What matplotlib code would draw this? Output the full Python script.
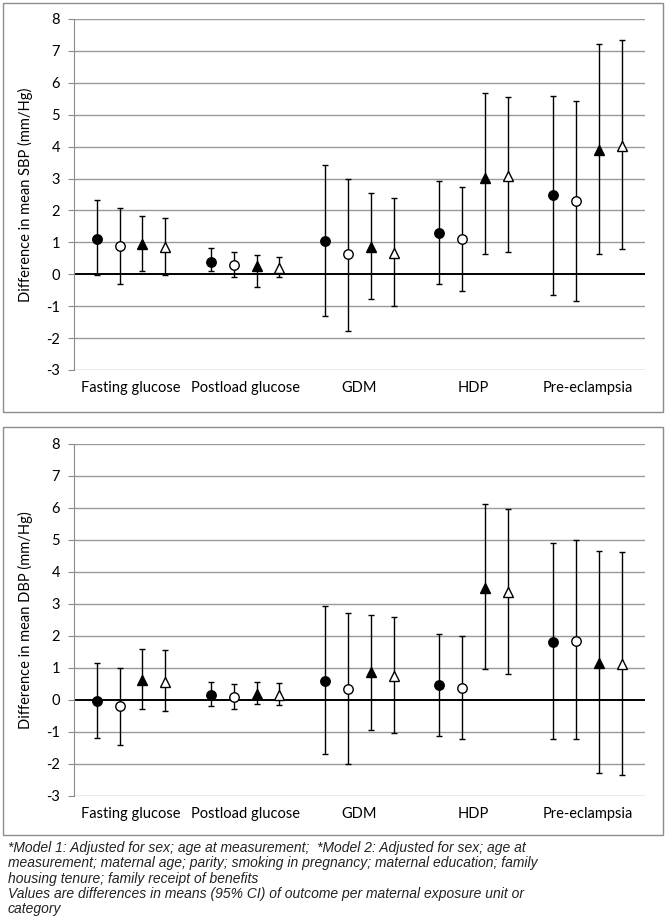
import matplotlib.pyplot as plt
from matplotlib.patches import Rectangle
import numpy as np

categories = ['Fasting glucose', 'Postload glucose', 'GDM', 'HDP', 'Pre-eclampsia']

# SBP: point estimate, lower and upper 95% CI for each series
sbp_circ_m1 = [1.12, 0.40, 1.05, 1.28, 2.49]
sbp_circ_m1_lo = [-0.03, 0.10, -1.31, -0.30, -0.64]
sbp_circ_m1_hi = [2.32, 0.83, 3.42, 2.92, 5.59]
sbp_circ_m2 = [0.89, 0.29, 0.62, 1.10, 2.30]
sbp_circ_m2_lo = [-0.31, -0.10, -1.78, -0.53, -0.83]
sbp_circ_m2_hi = [2.09, 0.71, 3.00, 2.74, 5.44]
sbp_tri_m1 = [0.94, 0.26, 0.87, 3.03, 3.89]
sbp_tri_m1_lo = [0.10, -0.39, -0.78, 0.63, 0.63]
sbp_tri_m1_hi = [1.83, 0.60, 2.56, 5.69, 7.22]
sbp_tri_m2 = [0.84, 0.21, 0.66, 3.09, 4.03]
sbp_tri_m2_lo = [-0.03, -0.10, -1.01, 0.71, 0.79]
sbp_tri_m2_hi = [1.76, 0.55, 2.38, 5.54, 7.35]

# DBP
dbp_circ_m1 = [-0.02, 0.17, 0.60, 0.47, 1.80]
dbp_circ_m1_lo = [-1.18, -0.19, -1.70, -1.13, -1.21]
dbp_circ_m1_hi = [1.17, 0.57, 2.93, 2.07, 4.92]
dbp_circ_m2 = [-0.20, 0.10, 0.34, 0.37, 1.85]
dbp_circ_m2_lo = [-1.41, -0.27, -2.00, -1.21, -1.21]
dbp_circ_m2_hi = [0.99, 0.51, 2.71, 2.00, 5.00]
dbp_tri_m1 = [0.62, 0.19, 0.87, 3.50, 1.16]
dbp_tri_m1_lo = [-0.27, -0.13, -0.93, 0.97, -2.29]
dbp_tri_m1_hi = [1.59, 0.55, 2.67, 6.11, 4.65]
dbp_tri_m2 = [0.57, 0.15, 0.76, 3.37, 1.11]
dbp_tri_m2_lo = [-0.36, -0.16, -1.03, 0.81, -2.36]
dbp_tri_m2_hi = [1.55, 0.54, 2.60, 5.98, 4.62]

ylabels = ['Difference in mean SBP (mm/Hg)', 'Difference in mean DBP (mm/Hg)']

footnote = ('*Model 1: Adjusted for sex; age at measurement;  *Model 2: Adjusted for sex; age at\n'
            'measurement; maternal age; parity; smoking in pregnancy; maternal education; family\n'
            'housing tenure; family receipt of benefits\n'
            'Values are differences in means (95% CI) of outcome per maternal exposure unit or\n'
            'category')

plt.rcParams['font.family'] = ['Lato', 'DejaVu Sans']
plt.rcParams['axes.unicode_minus'] = False

fig = plt.figure(figsize=(6.66, 9.22), dpi=100)

# panel frames
for y0, h in [(1 - 412 / 922, 409 / 922), (1 - 835 / 922, 408 / 922)]:
    fig.add_artist(Rectangle((3 / 666, y0), 660 / 666, h, transform=fig.transFigure,
                             fill=False, edgecolor='#8c8c8c', linewidth=1.0))

ax1 = fig.add_axes([0.111, 0.5987, 0.857, 0.3807])
ax2 = fig.add_axes([0.111, 0.1367, 0.857, 0.3818])

sbp = [(sbp_circ_m1, sbp_circ_m1_lo, sbp_circ_m1_hi),
       (sbp_circ_m2, sbp_circ_m2_lo, sbp_circ_m2_hi),
       (sbp_tri_m1, sbp_tri_m1_lo, sbp_tri_m1_hi),
       (sbp_tri_m2, sbp_tri_m2_lo, sbp_tri_m2_hi)]
dbp = [(dbp_circ_m1, dbp_circ_m1_lo, dbp_circ_m1_hi),
       (dbp_circ_m2, dbp_circ_m2_lo, dbp_circ_m2_hi),
       (dbp_tri_m1, dbp_tri_m1_lo, dbp_tri_m1_hi),
       (dbp_tri_m2, dbp_tri_m2_lo, dbp_tri_m2_hi)]

styles = [('o', 'black', 6.8), ('o', 'white', 6.8), ('^', 'black', 7.2), ('^', 'white', 7.2)]
offsets = [-0.3, -0.1, 0.1, 0.3]
x = np.arange(len(categories))

for ax, data, ylab in [(ax1, sbp, ylabels[0]), (ax2, dbp, ylabels[1])]:
    for k in range(-3, 9):
        if k == 0:
            continue
        ax.axhline(k, color='#9a9a9a', linewidth=1.0, zorder=0)
    ax.axhline(0, color='black', linewidth=1.4, zorder=1)
    for (est, lo, hi), (mk, fc, ms), off in zip(data, styles, offsets):
        est = np.array(est)
        err = [est - np.array(lo), np.array(hi) - est]
        ax.errorbar(x + off, est, yerr=err, fmt=mk, color='black', mfc=fc, mec='black',
                    ms=ms, mew=1.0, elinewidth=1.0, capsize=2.5, capthick=1.0, zorder=3)
    ax.set_xlim(-0.5, 4.5)
    ax.set_ylim(-3, 8)
    ax.set_yticks(range(-3, 9))
    ax.set_xticks(x)
    ax.set_xticklabels(categories, fontsize=10.5)
    ax.tick_params(axis='x', length=0, pad=8)
    ax.tick_params(axis='y', length=4, color='#8c8c8c', labelsize=10.5, pad=6)
    for s in ['top', 'right', 'bottom']:
        ax.spines[s].set_visible(False)
    ax.spines['left'].set_color('#8c8c8c')
    ax.set_ylabel(ylab, fontsize=10.5)
    ax.yaxis.set_label_coords(-0.072, 0.5)

fig.text(8 / 666, 1 - 841 / 922, footnote, fontsize=10, style='italic', va='top', ha='left',
         family=['Liberation Sans', 'DejaVu Sans'], linespacing=1.12, color='#222222')

fig.savefig('out.png', dpi=100)
